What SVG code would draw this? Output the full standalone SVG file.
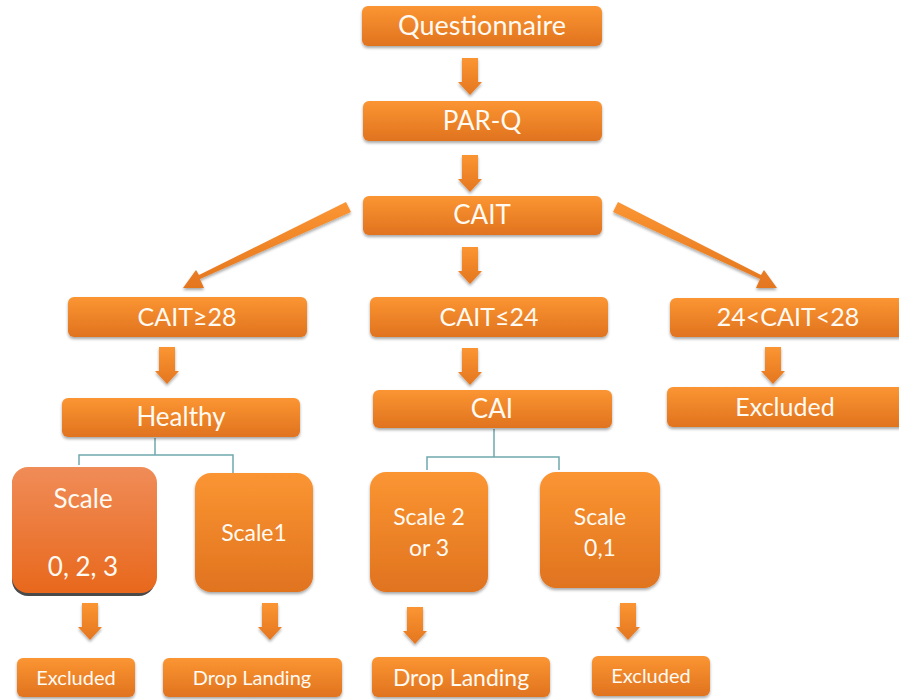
<svg xmlns="http://www.w3.org/2000/svg" width="899" height="700" viewBox="0 0 899 700">
<defs>
<linearGradient id="g" x1="0" y1="0" x2="0" y2="1">
<stop offset="0" stop-color="#fb9532"/>
<stop offset="1" stop-color="#e0731f"/>
</linearGradient>
<linearGradient id="g2" x1="0" y1="0" x2="0" y2="1">
<stop offset="0" stop-color="#f08c58"/>
<stop offset="1" stop-color="#e8681c"/>
</linearGradient>
<linearGradient id="ga" x1="0" y1="0" x2="0" y2="1">
<stop offset="0" stop-color="#fb9532"/>
<stop offset="1" stop-color="#e4761f"/>
</linearGradient>
<filter id="sh" x="-10%" y="-20%" width="120%" height="150%">
<feGaussianBlur in="SourceAlpha" stdDeviation="1.5"/>
<feOffset dx="0" dy="2" result="b"/>
<feComponentTransfer><feFuncA type="linear" slope="0.35"/></feComponentTransfer>
<feMerge><feMergeNode/><feMergeNode in="SourceGraphic"/></feMerge>
</filter>
<path id="dn" d="M-8,0 H8 V24 H12 L0,37 L-12,24 H-8 Z"/>
</defs>
<style>
.b{fill:url(#g);filter:url(#sh)}
.t{fill:#fffaf2;font-family:Lato,"Open Sans",sans-serif;text-anchor:middle}
.a{fill:url(#ga);filter:url(#sh)}
.c{fill:none;stroke:#6fa9ad;stroke-width:1.5}
</style>

<g id="connectors">
<use href="#dn" class="a" x="470" y="58"/>
<use href="#dn" class="a" x="470" y="155"/>
<use href="#dn" class="a" x="470" y="247"/>
<use href="#dn" class="a" x="167" y="347"/>
<use href="#dn" class="a" x="470" y="348"/>
<use href="#dn" class="a" x="773" y="347"/>
<use href="#dn" class="a" x="90" y="603"/>
<use href="#dn" class="a" x="270" y="603"/>
<use href="#dn" class="a" x="415" y="607"/>
<use href="#dn" class="a" x="628" y="603"/>
<path class="a" d="M346,202 L351,212 L200,279 L204,288 L183,288 L196,270 L199,275 Z"/>
<path class="a" d="M618,202 L613,212 L760,279 L756,288 L777,288 L764,270 L761,275 Z"/>
<path class="c" d="M155,438 V455 M79,465 V455 H233 V473"/>
<path class="c" d="M494,429 V457 M427,470 V457 H559 V470"/>
</g>

<g id="questionnaire"><rect class="b" x="362" y="6" width="240" height="40" rx="6"/><text class="t" x="482" y="35" font-size="27">Questionnaire</text></g>
<g id="parq"><rect class="b" x="363" y="101" width="239" height="40" rx="6"/><text class="t" x="482" y="130" font-size="26">PAR-Q</text></g>
<g id="cait"><rect class="b" x="363" y="196" width="239" height="39" rx="6"/><text class="t" x="482" y="224" font-size="26">CAIT</text></g>
<g id="cait28"><rect class="b" x="68" y="297" width="239" height="40" rx="6"/><text class="t" x="187" y="326" font-size="25">CAIT≥28</text></g>
<g id="cait24"><rect class="b" x="370" y="297" width="238" height="40" rx="6"/><text class="t" x="489" y="326" font-size="25">CAIT≤24</text></g>
<g id="cait2428"><rect class="b" x="670" y="298" width="240" height="39" rx="6"/><text class="t" x="788" y="326" font-size="25">24&lt;CAIT&lt;28</text></g>
<g id="healthy"><rect class="b" x="62" y="398" width="238" height="39" rx="6"/><text class="t" x="181" y="426" font-size="26">Healthy</text></g>
<g id="cai"><rect class="b" x="373" y="390" width="239" height="38" rx="6"/><text class="t" x="492" y="418" font-size="26">CAI</text></g>
<g id="excluded-right"><rect class="b" x="667" y="387" width="240" height="40" rx="6"/><text class="t" x="785" y="416" font-size="25">Excluded</text></g>
<g id="scale023"><rect x="12" y="469" width="143" height="127" rx="16" fill="#4a4a4a"/><rect x="12" y="467" width="145" height="126" rx="16" fill="url(#g2)"/><text class="t" x="83" y="508" font-size="26">Scale</text><text class="t" x="83" y="576" font-size="26">0, 2, 3</text></g>
<g id="scale1"><rect class="b" x="195" y="473" width="118" height="119" rx="16"/><text class="t" x="254" y="541" font-size="23">Scale1</text></g>
<g id="scale23"><rect class="b" x="370" y="472" width="118" height="120" rx="16"/><text class="t" x="429" y="525" font-size="23">Scale 2</text><text class="t" x="429" y="556" font-size="23">or 3</text></g>
<g id="scale01"><rect class="b" x="540" y="472" width="120" height="116" rx="16"/><text class="t" x="600" y="525" font-size="23">Scale</text><text class="t" x="600" y="556" font-size="23">0,1</text></g>
<g id="excluded1"><rect class="b" x="17" y="658" width="118" height="39" rx="6"/><text class="t" x="76" y="685" font-size="20">Excluded</text></g>
<g id="drop1"><rect class="b" x="163" y="658" width="179" height="39" rx="6"/><text class="t" x="252" y="685" font-size="20">Drop Landing</text></g>
<g id="drop2"><rect class="b" x="372" y="657" width="178" height="40" rx="6"/><text class="t" x="461" y="686" font-size="23">Drop Landing</text></g>
<g id="excluded2"><rect class="b" x="592" y="656" width="118" height="40" rx="6"/><text class="t" x="651" y="683" font-size="20">Excluded</text></g>
</svg>
